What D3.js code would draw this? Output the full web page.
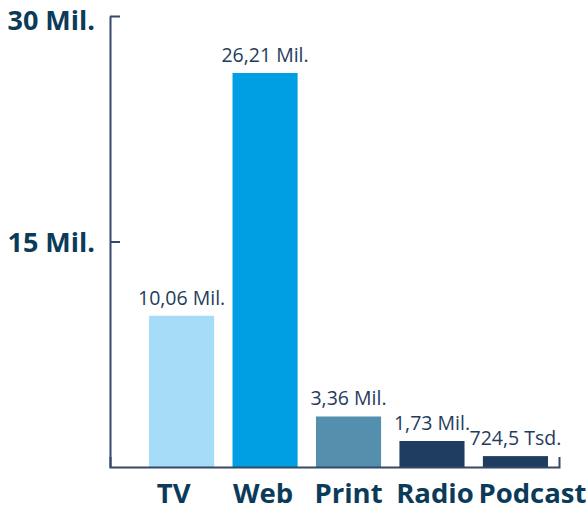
<!DOCTYPE html>
<html>
<head>
<meta charset="utf-8">
<script src="https://cdn.jsdelivr.net/npm/d3@7"></script>
<style>
	body { margin: 0; background: #fff; }
	svg text { font-family: "Open Sans", sans-serif; }
</style>
</head>
<body>
<div id="chart"></div>
<script>
// Data
var categories = ["TV", "Web", "Print", "Radio", "Podcast"];
var values     = [10.06, 26.21, 3.36, 1.73, 0.7245];   // in Mil.
var valueLabels = ["10,06 Mil.", "26,21 Mil.", "3,36 Mil.", "1,73 Mil.", "724,5 Tsd."];
var barColors  = ["#a6dcf7", "#009fe3", "#548fad", "#1f3d5f", "#1f3d5f"];
var tickValues = [15, 30];
var tickLabels = ["15 Mil.", "30 Mil."];

var width = 588, height = 508;
var textColor = "#0c3b5a";
var axisColor = "#34496a";
// labels under the axis are nudged so they don't collide
var labelShift = [-8, -2, 0, 3, 17];

var svg = d3.select("#chart").append("svg")
	.attr("width", width)
	.attr("height", height);

// Scales
var y = d3.scaleLinear().domain([0, 30]).range([467, 16]);
var x = d3.scaleBand()
	.domain(categories)
	.range([110, 559])
	.paddingInner(0.22)
	.paddingOuter(0.3)
	.align(0.78);

// Bars
svg.append("g").selectAll("rect")
	.data(categories)
	.enter().append("rect")
	.attr("x", function (d) { return x(d); })
	.attr("width", x.bandwidth())
	.attr("y", function (d, i) { return y(values[i]); })
	.attr("height", function (d, i) { return y(0) - y(values[i]); })
	.attr("fill", function (d, i) { return barColors[i]; });

// Value labels
svg.append("g").selectAll("text")
	.data(categories)
	.enter().append("text")
	.attr("x", function (d) { return x(d) + x.bandwidth() / 2; })
	.attr("y", function (d, i) { return y(values[i]) - 11; })
	.attr("text-anchor", "middle")
	.attr("font-size", 19.5)
	.attr("fill", "#1f3d5c")
	.text(function (d, i) { return valueLabels[i]; });

// Y axis
var yAxis = svg.append("g")
	.attr("transform", "translate(110,0)")
	.call(d3.axisLeft(y).tickValues(tickValues).tickSize(-10).tickSizeOuter(0).tickFormat(""));
yAxis.select(".domain").attr("stroke", axisColor).attr("stroke-width", 2);
yAxis.selectAll(".tick line").attr("stroke", axisColor).attr("stroke-width", 2);

yAxis.selectAll(".tick").append("text")
	.attr("x", -15)
	.attr("y", function (d) { return Math.max(10, 29 - y(d)); })
	.attr("text-anchor", "end")
	.attr("font-size", 27)
	.attr("font-weight", "bold")
	.attr("fill", textColor)
	.text(function (d, i) { return tickLabels[i]; });

// X axis
var xAxis = svg.append("g")
	.attr("transform", "translate(0," + y(0) + ")")
	.call(d3.axisBottom(x).tickSize(0).tickSizeOuter(-10));
xAxis.select(".domain").attr("stroke", axisColor).attr("stroke-width", 2);
xAxis.selectAll(".tick text")
	.attr("x", function (d, i) { return labelShift[i]; })
	.attr("y", 36)
	.attr("dy", 0)
	.attr("font-size", 27.5)
	.attr("font-weight", "bold")
	.attr("fill", textColor);
</script>
</body>
</html>
